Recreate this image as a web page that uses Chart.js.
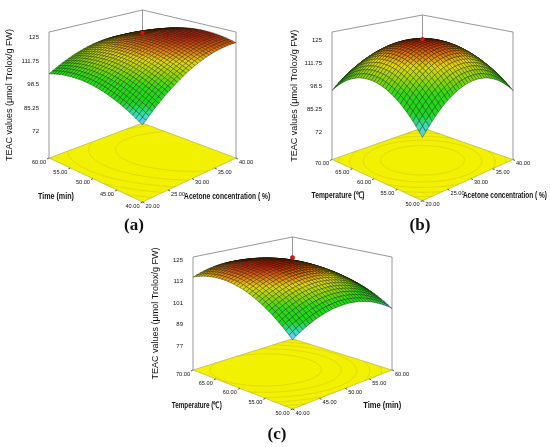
<!DOCTYPE html>
<html>
<head>
<meta charset="utf-8">
<script src="https://cdn.jsdelivr.net/npm/chart.js@4/dist/chart.umd.min.js"></script>
<style>
  body { margin: 0; background: #fff; }
  #page { position: relative; width: 550px; height: 447px; overflow: hidden; background: #fff; }
  #page canvas { position: absolute; }
</style>
</head>
<body>
<div id="page">
  <canvas id="chartA" width="275" height="235" style="left:0;top:0"></canvas>
  <canvas id="chartB" width="275" height="235" style="left:275px;top:0"></canvas>
  <canvas id="chartC" width="290" height="212" style="left:130px;top:235px"></canvas>
</div>
<script>
// ------------------------------
// data
// ------------------------------
const acetoneTicks = [20, 25, 30, 35, 40];
const timeTicks = [40, 45, 50, 55, 60];
const tempTicks = [50, 55, 60, 65, 70];
const teacTicksAB = [72, 85.25, 98.5, 111.75, 125];
const teacTicksC = [77, 89, 101, 113, 125];

// TEAC (µmol Trolox/g FW); rows = factor on the left floor axis, cols = factor on the right floor axis
const teacTimeAcetone = [           // rows: time 40..60, cols: acetone 20..40
  [95.5, 107.4, 115.8, 120.6, 122.0],
  [102.6, 113.3, 120.5, 124.2, 124.4],
  [106.5, 116.0, 122.0, 124.5, 123.5],
  [107.1, 115.4, 120.3, 121.6, 119.4],
  [104.5, 111.6, 115.3, 115.4, 112.0]
];
const teacTempAcetone = [           // rows: temperature 50..70, cols: acetone 20..40
  [88.0, 102.4, 108.5, 106.4, 96.0],
  [102.4, 115.8, 120.9, 117.8, 106.4],
  [108.5, 120.9, 125.0, 120.9, 108.5],
  [106.4, 117.8, 120.9, 115.8, 102.4],
  [96.0, 106.4, 108.5, 102.4, 88.0]
];
const teacTempTime = [              // rows: temperature 50..70, cols: time 40..60
  [98.0, 105.5, 108.0, 105.5, 98.0],
  [109.9, 116.4, 118.0, 114.6, 106.1],
  [116.8, 122.4, 123.0, 118.6, 109.3],
  [118.6, 123.3, 123.0, 117.7, 107.4],
  [115.5, 119.3, 118.0, 111.8, 100.5]
];
// centre-point runs: [right-axis factor, left-axis factor, TEAC]
const centreA = [30, 50, 127.5];
const centreB = [30, 60, 125.3];
const centreC = [50, 60, 126.3];

const TEAC_TITLE = 'TEAC values (\u03bcmol Trolox/g FW)';
const STEPS = 8;

// ------------------------------
// helpers
// ------------------------------
function tangents(p) {
  const n = p.length, m = [];
  for (let i = 0; i < n; i++) {
    if (i === 0) m.push((-3 * p[0] + 4 * p[1] - p[2]) / 2);
    else if (i === n - 1) m.push((3 * p[n - 1] - 4 * p[n - 2] + p[n - 3]) / 2);
    else m.push((p[i + 1] - p[i - 1]) / 2);
  }
  return m;
}

// smooth drawing of a row of grid values (cubic hermite, like line tension)
function resample(p, steps) {
  const m = tangents(p), out = [];
  for (let i = 0; i < p.length - 1; i++) {
    for (let s = 0; s < steps; s++) {
      const t = s / steps, t2 = t * t, t3 = t2 * t;
      out.push((2 * t3 - 3 * t2 + 1) * p[i] + (t3 - 2 * t2 + t) * m[i] +
               (-2 * t3 + 3 * t2) * p[i + 1] + (t3 - t2) * m[i + 1]);
    }
  }
  out.push(p[p.length - 1]);
  return out;
}

const colourStops = [
  [0.00, [150, 160, 255]],
  [0.08, [60, 225, 225]],
  [0.25, [25, 215, 25]],
  [0.45, [40, 220, 20]],
  [0.62, [150, 215, 0]],
  [0.76, [230, 215, 0]],
  [0.88, [230, 120, 0]],
  [1.00, [205, 25, 0]]
];
function colourAt(t) {
  t = Math.max(0, Math.min(1, t));
  for (let i = 1; i < colourStops.length; i++) {
    if (t <= colourStops[i][0]) {
      const [t0, c0] = colourStops[i - 1], [t1, c1] = colourStops[i];
      const f = (t - t0) / (t1 - t0);
      return 'rgb(' + c0.map((c, k) => Math.round(c + (c1[k] - c) * f)).join(',') + ')';
    }
  }
  return 'rgb(205,25,0)';
}

// perspective view of the box: u along right floor axis, v along left floor axis (0..1)
function project(view, u, v, z) {
  const depth = view.dist - (1 - u - v) / Math.SQRT2;
  const k = view.dist / depth;
  const span = view.zTop - view.zFloor;
  const Z = (z - view.zFloor) / span * view.height;
  const r = (u - v) / Math.SQRT2;
  return {
    x: (u - v) * k,
    y: view.zFloor + (view.eye - (view.eye - Z) * k) * span / view.height,
    dist: Math.sqrt(depth * depth + r * r + (view.eye - Z) * (view.eye - Z))
  };
}

function norm(ticks, val) {
  return (val - ticks[0]) / (ticks[ticks.length - 1] - ticks[0]);
}

function surfacePlugin(view) {
  return {
    id: 'surface3d',
    beforeDatasetsDraw(chart) {
      const ctx = chart.ctx, xs = chart.scales.x, ys = chart.scales.y;
      const pix = (u, v, z) => {
        const p = project(view, u, v, z);
        return [xs.getPixelForValue(p.x), ys.getPixelForValue(p.y), p.dist];
      };
      const zf = view.zFloor, zt = view.zTop;

      // fine surface for drawing
      const rowsFine = view.grid.map(r => resample(r, STEPS));
      const cols = rowsFine[0].map((_, k) => resample(rowsFine.map(r => r[k]), STEPS));
      const N = cols.length - 1;
      const flat = view.grid.flat();
      const zMin = Math.min(...flat), zMax = Math.max(...flat);

      ctx.save();

      // floor
      const floor = [[0, 0], [1, 0], [1, 1], [0, 1]].map(([u, v]) => pix(u, v, zf));
      ctx.beginPath();
      floor.forEach((p, i) => i ? ctx.lineTo(p[0], p[1]) : ctx.moveTo(p[0], p[1]));
      ctx.closePath();
      ctx.fillStyle = '#f1f100';
      ctx.fill();
      ctx.lineWidth = 0.6;
      ctx.strokeStyle = 'rgba(150,150,60,0.8)';
      ctx.stroke();

      // contours on floor
      ctx.strokeStyle = 'rgba(205,170,0,0.4)';
      ctx.lineWidth = 0.8;
      [1, 2, 3, 4, 5].forEach(i => {
        const lev = zMin + (zMax - zMin) * i / 6;
        ctx.beginPath();
        for (let j = 0; j < N; j++) {
          for (let k = 0; k < N; k++) {
            const c = [[k, j], [k + 1, j], [k + 1, j + 1], [k, j + 1]];
            const pts = [];
            for (let e = 0; e < 4; e++) {
              const a = c[e], b = c[(e + 1) % 4];
              const za = cols[a[0]][a[1]], zb = cols[b[0]][b[1]];
              if ((za - lev) * (zb - lev) < 0) {
                const f = (lev - za) / (zb - za);
                pts.push(pix((a[0] + (b[0] - a[0]) * f) / N, (a[1] + (b[1] - a[1]) * f) / N, zf));
              }
            }
            for (let q = 0; q + 1 < pts.length; q += 2) {
              ctx.moveTo(pts[q][0], pts[q][1]);
              ctx.lineTo(pts[q + 1][0], pts[q + 1][1]);
            }
          }
        }
        ctx.stroke();
      });

      // box frame
      ctx.strokeStyle = '#8c8c8c';
      ctx.lineWidth = 0.9;
      ctx.beginPath();
      [[0, 1], [1, 1], [1, 0]].forEach(([u, v]) => {
        const a = pix(u, v, zf), b = pix(u, v, zt);
        ctx.moveTo(a[0], a[1]);
        ctx.lineTo(b[0], b[1]);
      });
      [[0, 1], [1, 1], [1, 0]].forEach(([u, v], i) => {
        const p = pix(u, v, zt);
        i ? ctx.lineTo(p[0], p[1]) : ctx.moveTo(p[0], p[1]);
      });
      ctx.stroke();

      // surface cells, far ones first
      const cells = [];
      for (let j = 0; j < N; j++) {
        for (let k = 0; k < N; k++) {
          const corners = [[k, j], [k + 1, j], [k + 1, j + 1], [k, j + 1]]
            .map(([a, b]) => pix(a / N, b / N, cols[a][b]));
          const zAvg = (cols[k][j] + cols[k + 1][j] + cols[k + 1][j + 1] + cols[k][j + 1]) / 4;
          const d = corners.reduce((s, p) => s + p[2], 0) / 4;
          cells.push({ corners, zAvg, d });
        }
      }
      cells.sort((a, b) => b.d - a.d);
      ctx.lineWidth = 0.6;
      ctx.strokeStyle = 'rgba(10,20,0,0.6)';
      cells.forEach(cell => {
        ctx.beginPath();
        cell.corners.forEach((p, i) => i ? ctx.lineTo(p[0], p[1]) : ctx.moveTo(p[0], p[1]));
        ctx.closePath();
        ctx.fillStyle = colourAt((cell.zAvg - zMin) / (zMax - zMin));
        ctx.fill();
        ctx.stroke();
      });

      // floor axes: ticks and labels
      ctx.fillStyle = '#111';
      ctx.strokeStyle = '#333';
      ctx.lineWidth = 0.8;
      ctx.font = '6px "Liberation Sans", Arial, sans-serif';
      ctx.textBaseline = 'middle';
      view.vTicks.forEach(t => {
        const p = pix(0, norm(view.vTicks, t), zf);
        ctx.beginPath(); ctx.moveTo(p[0], p[1]); ctx.lineTo(p[0] - 2, p[1] + 1); ctx.stroke();
        ctx.textAlign = 'right';
        ctx.fillText(t.toFixed(2), p[0] - 3, p[1] + 4, 14);
      });
      view.uTicks.forEach(t => {
        const p = pix(norm(view.uTicks, t), 0, zf);
        ctx.beginPath(); ctx.moveTo(p[0], p[1]); ctx.lineTo(p[0] + 2, p[1] + 1); ctx.stroke();
        ctx.textAlign = 'left';
        ctx.fillText(t.toFixed(2), p[0] + 3, p[1] + 4, 14);
      });

      // floor axis titles
      ctx.font = 'bold 9px "Liberation Sans", Arial, sans-serif';
      ctx.textAlign = 'center';
      const vm = pix(0, 0.5, zf), um = pix(0.5, 0, zf);
      ctx.fillText(view.vTitle, vm[0] + view.vTitleOff[0], vm[1] + view.vTitleOff[1], view.vTitleWidth);
      ctx.fillText(view.uTitle, um[0] + view.uTitleOff[0], um[1] + view.uTitleOff[1], view.uTitleWidth);

      // panel label
      ctx.font = 'bold 17px "Liberation Serif", "Times New Roman", serif';
      ctx.fillText(view.label, view.labelPos[0], view.labelPos[1]);

      ctx.restore();
    }
  };
}

function makePanel(view) {
  const c = project(view, norm(view.uTicks, view.centre[0]), norm(view.vTicks, view.centre[1]), view.centre[2]);
  return new Chart(document.getElementById(view.canvas), {
    type: 'scatter',
    data: {
      datasets: [{
        label: 'centre point',
        data: [{ x: c.x, y: c.y }],
        pointRadius: 2.2,
        backgroundColor: '#e01010',
        borderColor: '#901000',
        borderWidth: 0.5,
        clip: false
      }]
    },
    options: {
      responsive: false,
      animation: false,
      layout: { padding: view.pad },
      plugins: { legend: { display: false }, tooltip: { enabled: false } },
      scales: {
        x: { type: 'linear', display: false, min: -1, max: 1 },
        y: {
          type: 'linear',
          min: view.zFloor,
          max: view.zTop,
          afterFit(scale) { scale.width = view.axisWidth; },
          afterBuildTicks(scale) { scale.ticks = view.zTicks.map(v => ({ value: v })); },
          ticks: {
            color: '#111',
            padding: 2,
            font: { family: '"Liberation Sans", Arial, sans-serif', size: 6 },
            callback: v => String(v)
          },
          grid: { display: false },
          border: { display: false },
          title: {
            display: true,
            text: TEAC_TITLE,
            color: '#111',
            padding: { top: 2, bottom: 0 },
            font: { family: '"Liberation Sans", Arial, sans-serif', size: 9 }
          }
        }
      }
    },
    plugins: [surfacePlugin(view)]
  });
}

// ------------------------------
// the three panels
// ------------------------------
makePanel({
  canvas: 'chartA', grid: teacTimeAcetone, centre: centreA,
  uTicks: acetoneTicks, vTicks: timeTicks, zTicks: teacTicksAB,
  uTitle: 'Acetone concentration ( %)', vTitle: 'Time (min)', label: '(a)',
  zFloor: 57.2, zTop: 128.0, dist: 6.17, eye: 2.572, height: 0.953,
  pad: { left: 2, top: 32, right: 39, bottom: 77 }, axisWidth: 47,
  vTitleOff: [-37, 18], uTitleOff: [35, 18], vTitleWidth: 36, uTitleWidth: 86, labelPos: [134, 226]
});

makePanel({
  canvas: 'chartB', grid: teacTempAcetone, centre: centreB,
  uTicks: acetoneTicks, vTicks: tempTicks, zTicks: teacTicksAB,
  uTitle: 'Acetone concentration ( %)', vTitle: 'Temperature (\u2103)', label: '(b)',
  zFloor: 56.4, zTop: 129.6, dist: 5.42, eye: 2.147, height: 0.996,
  pad: { left: 12, top: 32, right: 37, bottom: 75.5 }, axisWidth: 45,
  vTitleOff: [-36, 17], uTitleOff: [34, 17], vTitleWidth: 53, uTitleWidth: 84, labelPos: [145, 226]
});

makePanel({
  canvas: 'chartC', grid: teacTempTime, centre: centreC,
  uTicks: timeTicks, vTicks: tempTicks, zTicks: teacTicksC,
  uTitle: 'Time (min)', vTitle: 'Temperature (\u2103)', label: '(c)',
  zFloor: 63.6, zTop: 126.7, dist: 6.40, eye: 2.232, height: 0.803,
  pad: { left: 18, top: 22, right: 28, bottom: 77 }, axisWidth: 45,
  vTitleOff: [-43, 17], uTitleOff: [37, 17], vTitleWidth: 50, uTitleWidth: 38, labelPos: [147, 200]
});
</script>
</body>
</html>
